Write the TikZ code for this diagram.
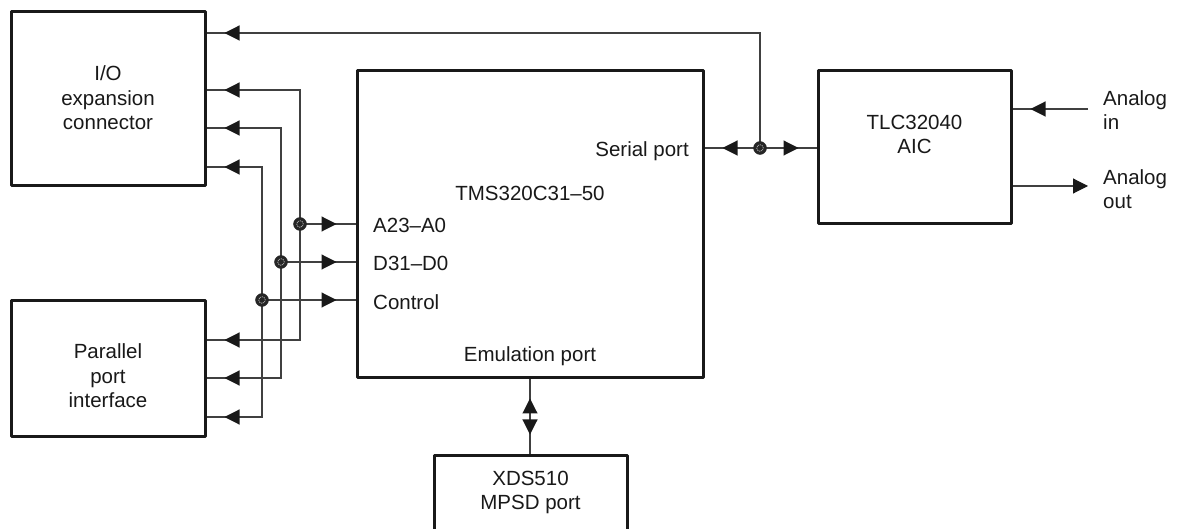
\documentclass[tikz,border=0pt]{standalone}
\usepackage{fontspec}
\setmainfont{Liberation Sans}
\usetikzlibrary{arrows.meta,decorations.markings}
\begin{document}
\begin{tikzpicture}[x=1pt,y=-1pt,
  box/.style={draw=black!90, line width=3pt, line join=round, rectangle, inner sep=0pt, fill=white},
  txt/.style={font=\fontsize{20.5}{24.5}\selectfont, align=center, inner sep=0pt, text=black!90},
  bus/.style={line width=1.1pt, draw=black!75},
  tipend/.style={postaction={decorate}, decoration={markings,
     mark=at position -#1 with {\arrow[black!90]{Triangle[length=15pt,width=15pt]}}}},
  tipend/.default=18pt,
  endtip/.style={-{Triangle[length=15pt,width=15pt,black!90]}},
  junct/.style={circle, fill=black!85, draw=black!85, minimum size=13pt, inner sep=0pt,
     path picture={\draw[white!75!black, line width=0.6pt, dash pattern=on 1.2pt off 0.8pt]
       (path picture bounding box.center) circle[radius=3.3pt];}}
]
\useasboundingbox (0,0) rectangle (1179,529);

% boxes
\node[box, minimum width=194pt, minimum height=174pt] (io) at (108,99) {};
\node[txt] (iotext) at (108,98) {I/O\\expansion\\connector};
\node[box, minimum width=194pt, minimum height=136pt] (par) at (108,369) {};
\node[txt] (partext) at (108,376) {Parallel\\port\\interface};
\node[box, minimum width=346pt, minimum height=307pt] (tms) at (530,224.5) {};
\node[box, minimum width=193pt, minimum height=153pt] (tlc) at (914.5,147.5) {};
\node[txt] (tlctext) at (914.5,134.5) {TLC32040\\AIC};
\node[box, minimum width=193pt, minimum height=90pt] (xds) at (530.5,500) {};
\node[txt] (xdstext) at (530.5,492.5) {XDS510\\MPSD port};

% TMS labels
\node[txt, anchor=east] (serl) at (689,151) {Serial port};
\node[txt] (tmsname) at (530,193) {TMS320C31–50};
\node[txt, anchor=west] (al) at (373,225) {A23–A0};
\node[txt, anchor=west] (dl) at (373,263) {D31–D0};
\node[txt, anchor=west] (cl) at (373,302) {Control};
\node[txt] (emul) at (530,356) {Emulation port};

% analog labels
\node[txt, anchor=west, align=left] (ainl) at (1103,110) {Analog\\in};
\node[txt, anchor=west, align=left] (aoutl) at (1103,189) {Analog\\out};

% junction points and free ends
\coordinate (jA) at (300,224);
\coordinate (jD) at (281,262);
\coordinate (jC) at (262,300);
\coordinate (jS) at (760,148);
\coordinate (ain) at (1088,109);
\coordinate (aout) at (1088,186);

% address bus
\draw[bus, tipend] (jA) |- (io.east |- 0,90);
\draw[bus, tipend] (jA) |- (par.east |- 0,340);
\draw[bus, tipend=19pt] (jA) -- (tms.west |- jA);
% data bus
\draw[bus, tipend] (jD) |- (io.east |- 0,128);
\draw[bus, tipend] (jD) |- (par.east |- 0,378);
\draw[bus, tipend=19pt] (jD) -- (tms.west |- jD);
% control bus
\draw[bus, tipend] (jC) |- (io.east |- 0,167);
\draw[bus, tipend] (jC) |- (par.east |- 0,417);
\draw[bus, tipend=19pt] (jC) -- (tms.west |- jC);
% serial
\draw[bus, tipend] (jS) -- (tms.east |- jS);
\draw[bus, tipend] (jS) -- (tlc.west |- jS);
\draw[bus, tipend] (jS) |- (io.east |- 0,33);
% analog
\draw[bus, tipend] (ain) -- (tlc.east |- ain);
\draw[bus, endtip] (tlc.east |- aout) -- (aout);
% emulation
\coordinate (emid) at (530,416.5);
\draw[bus, tipend=19pt] (emid) -- (tms.south);
\draw[bus, tipend=19pt] (emid) -- (xds.north -| emid);

% junction dots
\node[junct] (dA) at (jA) {};
\node[junct] (dD) at (jD) {};
\node[junct] (dC) at (jC) {};
\node[junct] (dS) at (jS) {};
\end{tikzpicture}
\end{document}
